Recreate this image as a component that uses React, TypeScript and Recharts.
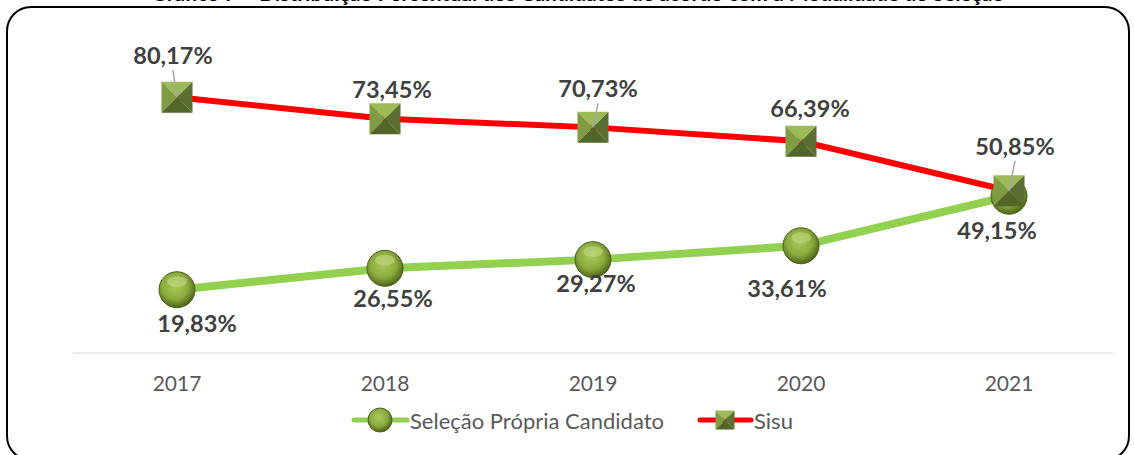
import React from 'react';
import { LineChart, Line, XAxis, YAxis, LabelList } from 'recharts';

const years = ['2017', '2018', '2019', '2020', '2021'];
const selecaoPropria = [19.83, 26.55, 29.27, 33.61, 49.15];
const sisu = [80.17, 73.45, 70.73, 66.39, 50.85];

// label placement relative to the marker (px)
const sisuLabelOffsets = [[-4, -42], [7, -30], [5, -39], [9, -33], [6, -45]];
const sisuLeader = [true, false, true, false, true];
const selLabelOffsets = [[20, 33], [8, 30], [3, 23], [-14, 42], [-12, 34]];

const data = years.map((year, i) => ({
  year,
  selecao: selecaoPropria[i],
  sisu: sisu[i],
}));

const FONT = 'Lato, "Open Sans", "DejaVu Sans", sans-serif';
const fmt = (v: number) => v.toFixed(2).replace('.', ',') + '%';

const Ball = ({ cx, cy, r = 18 }: any) => (
  <g>
    <circle cx={cx} cy={cy} r={r} fill="url(#ballGrad)" stroke="#4b5e1c" strokeWidth={1} />
    <ellipse cx={cx} cy={cy - r * 0.45} rx={r * 0.55} ry={r * 0.3} fill="#c7dc8a" opacity={0.55} />
  </g>
);

const Pyramid = ({ cx, cy, s = 31 }: any) => {
  const h = s / 2;
  const l = cx - h, r = cx + h, t = cy - h, b = cy + h;
  return (
    <g>
      <polygon points={`${l},${t} ${r},${t} ${cx},${cy}`} fill="#9cba58" />
      <polygon points={`${l},${t} ${l},${b} ${cx},${cy}`} fill="#7f9c43" />
      <polygon points={`${r},${t} ${r},${b} ${cx},${cy}`} fill="#5b6f33" />
      <polygon points={`${l},${b} ${r},${b} ${cx},${cy}`} fill="#526629" />
    </g>
  );
};

const BallDot = (props: any) => <Ball key={`b-${props.index}`} cx={props.cx} cy={props.cy} />;
const PyrDot = (props: any) => <Pyramid key={`p-${props.index}`} cx={props.cx} cy={props.cy} />;

const makeLabel = (offsets: number[][], leaders?: boolean[]) => (props: any) => {
  const { x, y, value, index } = props;
  const [dx, dy] = offsets[index];
  const lx = x + dx;
  const ly = y + dy;
  return (
    <g>
      {leaders && leaders[index] && (
        <line x1={lx} y1={ly + 15} x2={x} y2={y} stroke="#a6a6a6" strokeWidth={1.5} />
      )}
      <text
        x={lx}
        y={ly}
        textAnchor="middle"
        dominantBaseline="central"
        fontFamily={FONT}
        fontWeight="bold"
        fontSize={23.5}
        fill="#404040"
      >
        {fmt(value)}
      </text>
    </g>
  );
};

const YearTick = ({ x, y, payload }: any) => (
  <text x={x} y={y + 30} textAnchor="middle" fontFamily={FONT} fontSize={21} fill="#595959">
    {payload.value}
  </text>
);

export default function App() {
  return (
    <div style={{ position: 'absolute', left: 0, top: 0, width: 1134, height: 455, background: '#fff', overflow: 'hidden' }}>
      <svg width={1134} height={455} style={{ position: 'absolute', left: 0, top: 0 }}>
        <text x={578} y={1} textAnchor="middle" fontFamily={FONT} fontWeight="bold" fontSize={21} fill="#000">
          Gráfico 7 – Distribuição Percentual dos Candidatos de acordo com a Modalidade de Seleção
        </text>
        <rect x={7} y={7} width={1122} height={453} rx={24} ry={24} fill="none" stroke="#000" strokeWidth={2} />
      </svg>
      <div style={{ position: 'absolute', left: 0, top: 0 }}>
        <LineChart width={1134} height={455} data={data} margin={{ top: 34, right: 21, bottom: 72, left: 73 }}>
          <defs>
            <radialGradient id="ballGrad" cx="45%" cy="40%" r="60%">
              <stop offset="0%" stopColor="#a9c95a" />
              <stop offset="60%" stopColor="#8bab3e" />
              <stop offset="100%" stopColor="#4e6419" />
            </radialGradient>
          </defs>
          <XAxis
            dataKey="year"
            axisLine={{ stroke: '#d9d9d9', strokeWidth: 1 }}
            tickLine={false}
            tick={<YearTick />}
            height={30}
            padding={{ left: 104, right: 104 }}
          />
          <YAxis hide domain={[0, 100]} />
          <Line
            dataKey="selecao"
            stroke="#92d050"
            strokeWidth={8}
            dot={<BallDot />}
            activeDot={false}
            isAnimationActive={false}
          >
            <LabelList dataKey="selecao" content={makeLabel(selLabelOffsets)} />
          </Line>
          <Line
            dataKey="sisu"
            stroke="#ff0000"
            strokeWidth={6}
            dot={<PyrDot />}
            activeDot={false}
            isAnimationActive={false}
          >
            <LabelList dataKey="sisu" content={makeLabel(sisuLabelOffsets, sisuLeader)} />
          </Line>
        </LineChart>
      </div>
      <div
        style={{
          position: 'absolute',
          left: 351,
          top: 405,
          display: 'flex',
          alignItems: 'center',
          fontFamily: FONT,
          fontSize: 22,
          color: '#595959',
          whiteSpace: 'nowrap',
        }}
      >
        <svg width={59} height={30}>
          <defs>
            <radialGradient id="ballGradL" cx="45%" cy="40%" r="60%">
              <stop offset="0%" stopColor="#a9c95a" />
              <stop offset="60%" stopColor="#8bab3e" />
              <stop offset="100%" stopColor="#4e6419" />
            </radialGradient>
          </defs>
          <line x1={3} y1={15} x2={56} y2={15} stroke="#92d050" strokeWidth={5} strokeLinecap="round" />
          <circle cx={29} cy={15} r={12} fill="url(#ballGradL)" stroke="#4b5e1c" />
        </svg>
        <span style={{ marginRight: 33 }}>Seleção Própria Candidato</span>
        <svg width={57} height={30}>
          <line x1={3} y1={15} x2={54} y2={15} stroke="#ff0000" strokeWidth={5} strokeLinecap="round" />
          <Pyramid cx={28} cy={15} s={19} />
        </svg>
        <span>Sisu</span>
      </div>
    </div>
  );
}
